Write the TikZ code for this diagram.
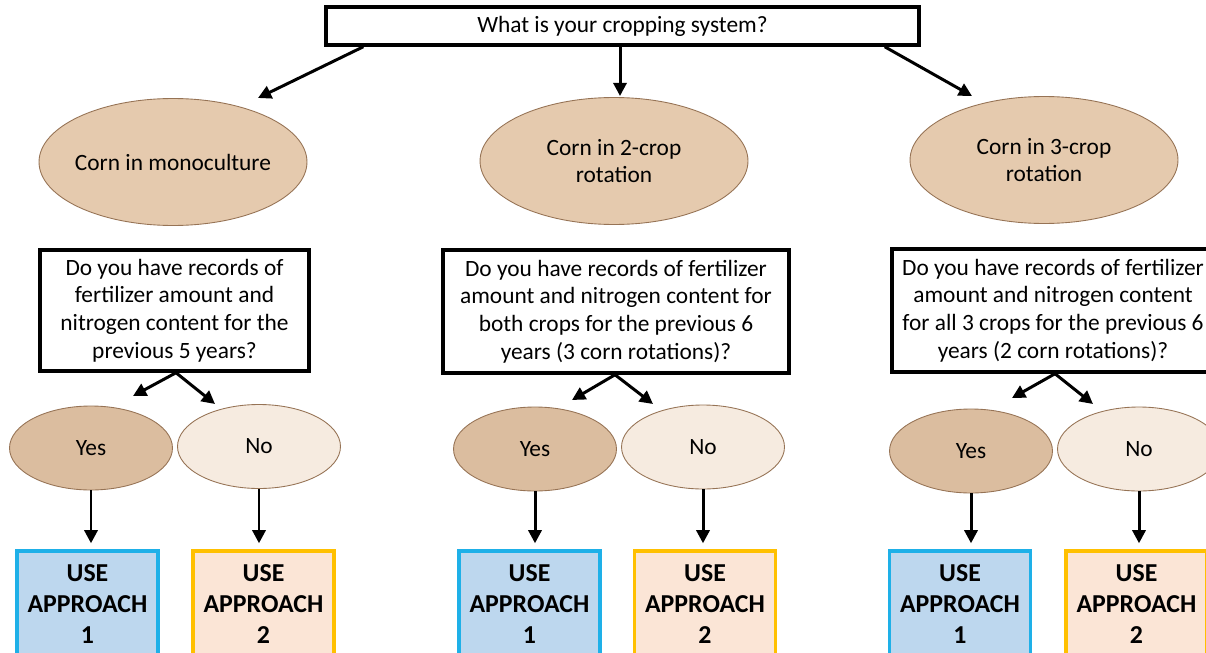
\documentclass[tikz,border=0pt]{standalone}
\usepackage{fontspec}
\setmainfont{Carlito}
\usetikzlibrary{shapes.geometric,arrows.meta,calc}

\definecolor{cornfill}{RGB}{229,202,174}
\definecolor{cornline}{RGB}{150,115,85}
\definecolor{yesfill}{RGB}{219,189,159}
\definecolor{nofill}{RGB}{246,235,224}
\definecolor{onefill}{RGB}{189,215,238}
\definecolor{oneline}{RGB}{30,176,232}
\definecolor{twofill}{RGB}{251,229,214}
\definecolor{twoline}{RGB}{255,192,0}

\begin{document}
\begin{tikzpicture}[x=0.02cm,y=-0.02cm,
	txt/.style={font=\fontsize{13.3}{15.8}\selectfont},
	qbox/.style={txt,draw,line width=2pt,align=center,inner sep=0pt},
	crop/.style={txt,ellipse,draw=cornline,fill=cornfill,line width=0.5pt,align=center,inner ysep=0pt,inner xsep=-8pt,minimum width=5.36cm,minimum height=2.54cm},
	yes/.style={crop,fill=yesfill,minimum width=3.26cm,minimum height=1.68cm},
	no/.style={yes,fill=nofill},
	appone/.style={draw=oneline,fill=onefill,line width=1.8pt,align=center,font=\fontsize{14.7}{17.4}\selectfont\bfseries,minimum width=2.82cm,minimum height=2.12cm,inner sep=0pt},
	apptwo/.style={appone,draw=twoline,fill=twofill},
	arr/.style={-{Triangle[length=7.5pt,width=7.5pt]},line width=1.7pt}
]

	\clip (0,0) rectangle (1206,652);

	% Question
	\node[qbox,minimum width=11.86cm,minimum height=0.76cm] (sys) at (622.5,26) {What is your cropping system?};

	% Cropping systems
	\node[crop] (mono) at (173,162) {Corn in monoculture};
	\node[crop] (two) at (614,161) {Corn in 2-crop\\rotation};
	\node[crop] (three) at (1044,160) {Corn in 3-crop\\rotation};

	\coordinate (tmono) at (258,98);
	\coordinate (ttwo) at (620,96);
	\coordinate (tthree) at (972,96);
	\draw[arr] ($(sys.south west)+(39,0)$) -- (tmono);
	\draw[arr] ($(sys.south)+(-2.5,0)$) -- (ttwo);
	\draw[arr] ($(sys.south east)+(-36,0)$) -- (tthree);

	% Records questions
	\node[qbox,minimum width=5.38cm,minimum height=2.42cm] (qmono) at (174.5,310.5)
		{Do you have records of\\fertilizer amount and\\nitrogen content for the\\previous 5 years?};
	\node[qbox,minimum width=6.92cm,minimum height=2.46cm] (qtwo) at (616,311.5)
		{Do you have records of fertilizer\\amount and nitrogen content for\\both crops for the previous 6\\years (3 corn rotations)?};
	\node[qbox,minimum width=6.44cm,minimum height=2.46cm] (qthree) at (1053,310.5)
		{Do you have records of fertilizer\\amount and nitrogen content\\for all 3 crops for the previous 6\\years (2 corn rotations)?};

	% Answers
	\node[yes] (ymono) at (91,448) {Yes};
	\node[no] (nmono) at (259,446.5) {No};
	\node[yes] (ytwo) at (535,449) {Yes};
	\node[no] (ntwo) at (703,447) {No};
	\node[yes] (ythree) at (971,451) {Yes};
	\node[no] (nthree) at (1139,449) {No};

	\coordinate (a1) at (133,396);
	\coordinate (a2) at (215,404);
	\coordinate (a3) at (572,400);
	\coordinate (a4) at (653,404);
	\coordinate (a5) at (1012,398);
	\coordinate (a6) at (1093,404);
	\draw[arr] ($(qmono.south)+(1.5,0)$) -- (a1);
	\draw[arr] ($(qmono.south)+(1.5,0)$) -- (a2);
	\draw[arr] ($(qtwo.south)+(-1,0)$) -- (a3);
	\draw[arr] ($(qtwo.south)+(-1,0)$) -- (a4);
	\draw[arr] ($(qthree.south)+(2,0)$) -- (a5);
	\draw[arr] ($(qthree.south)+(2,0)$) -- (a6);

	% Approaches
	\node[appone] (pmono) at (87.5,604) {USE\\APPROACH\\1};
	\node[apptwo] (qqmono) at (263.5,604) {USE\\APPROACH\\2};
	\node[appone] (ptwo) at (529.5,604) {USE\\APPROACH\\1};
	\node[apptwo] (qqtwo) at (705,604) {USE\\APPROACH\\2};
	\node[appone] (pthree) at (960,604) {USE\\APPROACH\\1};
	\node[apptwo] (qqthree) at (1136.5,604) {USE\\APPROACH\\2};

	\foreach \a/\b in {ymono/pmono,nmono/qqmono,ytwo/ptwo,ntwo/qqtwo,ythree/pthree,nthree/qqthree}
		\draw[arr,shorten >=3.5pt] (\a.south) -- (\a.south |- \b.north);

\end{tikzpicture}
\end{document}
